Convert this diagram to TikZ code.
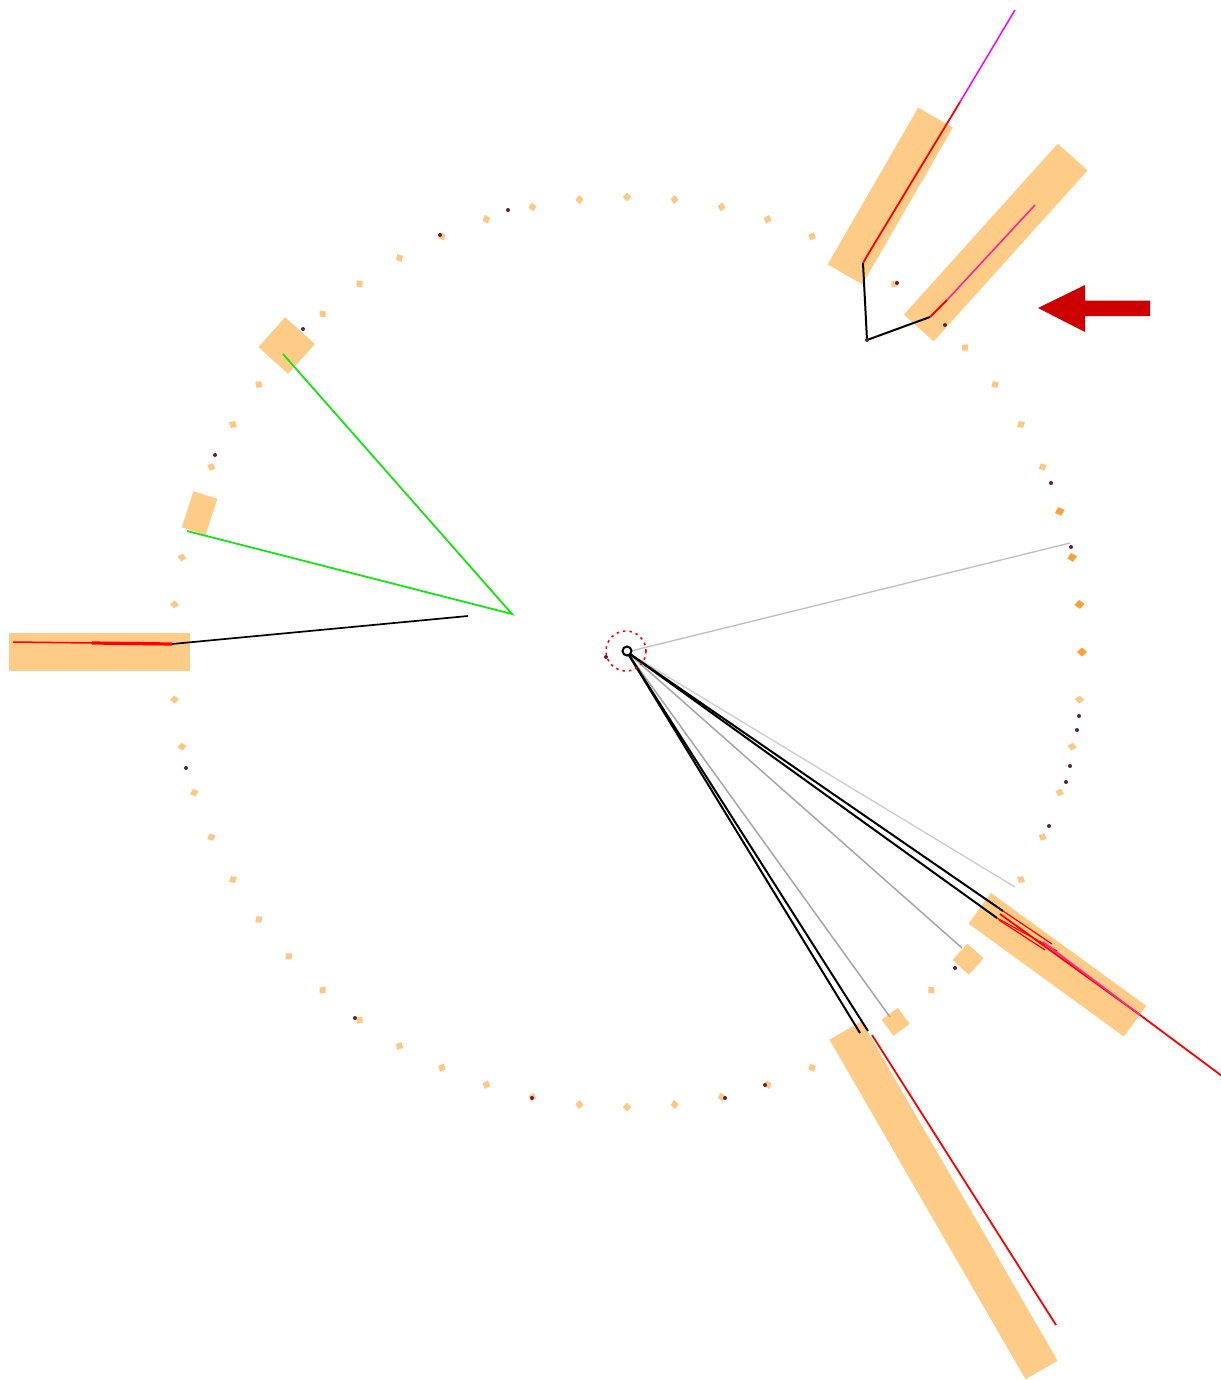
\documentclass[tikz,border=0pt]{standalone}
\usetikzlibrary{calc}
\definecolor{boxc}{RGB}{255,204,136}
\definecolor{dotlight}{RGB}{255,200,130}
\definecolor{dotstrong}{RGB}{255,160,50}
\definecolor{darkdot}{RGB}{100,30,60}
\definecolor{arrowred}{RGB}{204,0,0}
\definecolor{trackred}{RGB}{255,0,0}
\definecolor{pinkc}{RGB}{255,40,140}
\definecolor{magentac}{RGB}{255,0,255}
\definecolor{greenc}{RGB}{20,230,20}
\tikzset{
  calbox/.style={fill=boxc},
  ringdot/.style={fill=dotlight},
  strongdot/.style={fill=dotstrong},
  hitdot/.style={fill=darkdot},
  redtrack/.style={draw=trackred, line width=1.8pt},
  blacktrack/.style={draw=black, line width=2pt},
  greytrack/.style={draw=gray!70, line width=1.5pt},
  greentrack/.style={draw=greenc, line width=1.8pt}
}
\begin{document}
\begin{tikzpicture}[x=1pt,y=-1pt]
\useasboundingbox (0,0) rectangle (1220,1380);
\fill[white] (0,0) rectangle (1220,1380);
\coordinate (c) at (627,652);

% ring of small cells
\begin{scope}[shift={(c)}]
\foreach \a in {24,30,...,354}
  \fill[ringdot, rotate=\a] (455,0) +(-4.5,0) -- +(0,4) -- +(4.5,0) -- +(0,-4) -- cycle;
\foreach \a in {0,6,12,18}
  \fill[strongdot, rotate=\a] (455,0) +(-5,0) -- +(0,4.5) -- +(5,0) -- +(0,-4.5) -- cycle;

% calorimeter boxes
\fill[calbox, rotate=180] (437,-19) rectangle (618,19);
\fill[calbox, rotate=138] (438,-20) rectangle (478,20);
\fill[calbox, rotate=162] (437,-19) rectangle (462,19);
\fill[calbox, rotate=60] (436,-20) rectangle (617,20);
\fill[calbox, rotate=48] (436,-20) rectangle (666,20);
\fill[calbox, rotate=-36] (436,-19) rectangle (628,19);
\fill[calbox, rotate=-42] (448,-11) rectangle (470,11);
\fill[calbox, rotate=-54] (447,-10) rectangle (467,10);
\fill[calbox, rotate=-60] (437,-18.5) rectangle (829,18.5);
\end{scope}

% track coordinates
\coordinate (g1) at (1070,543);
\coordinate (g2) at (1015,887);
\coordinate (g3) at (962,948);
\coordinate (g4) at (890,1017);
\coordinate (b1) at (1003,911);
\coordinate (b2) at (997,918);
\coordinate (b3) at (860,1033);
\coordinate (b4) at (868,1031);

% grey tracks
\draw[draw=gray!50, line width=1.3pt] (c) -- (g1);
\draw[draw=gray!40, line width=1.3pt] (c) -- (g2);
\draw[greytrack] (c) -- (g3);
\draw[greytrack] (c) -- (g4);

% black double tracks
\draw[blacktrack] (c) -- (b1);
\draw[blacktrack] (c) -- (b2);
\draw[blacktrack] (c) -- (b3);
\draw[blacktrack] (c) -- (b4);

% bottom-right shower
\coordinate (r1) at (1140,1015);
\coordinate (r2) at (1222,1076);
\draw[redtrack] (1000,914) -- (r1) -- (r2);
\draw[draw=trackred, line width=1.2pt] (b2) -- (1057,951);
\draw[draw=trackred, line width=1.2pt] (b1) -- (1052,944);
\draw[draw=trackred, line width=1.2pt] (999,920) -- (1045,950);
\draw[draw=pinkc, line width=1.8pt] (1043,942) -- (r1);

% bottom shower
\coordinate (r3) at (872,1035);
\coordinate (r4) at (1056,1325);
\draw[redtrack] (r3) -- (r4);

% top-right kinked tracks
\coordinate (v) at (867,340);
\coordinate (k1) at (863,263);
\coordinate (k2) at (930,317);
\coordinate (t1) at (960,102);
\coordinate (t2) at (1015,10);
\coordinate (t3) at (1035,205);
\draw[blacktrack] (k1) -- (v) -- (k2);
\draw[redtrack] (k1) -- (870,251) -- (t1);
\draw[draw=magentac, line width=1.5pt] (t1) -- (t2);
\draw[draw=trackred, line width=1.8pt] (k2) -- (947,300);
\draw[draw=pinkc, line width=1.6pt] (947,300) -- (t3);

% left track
\coordinate (l0) at (468,616);
\coordinate (l1) at (172,644);
\coordinate (l2) at (92,643);
\coordinate (l3) at (13,642);
\draw[draw=black, line width=1.7pt] (l0) -- (l1);
\draw[draw=trackred, line width=3.2pt] (l1) -- (l2);
\draw[draw=trackred, line width=1.5pt] (l2) -- (l3);

% green tracks
\coordinate (gv) at (512,614);
\coordinate (ge1) at (283,354);
\coordinate (ge2) at (187,531);
\draw[greentrack] (ge1) -- (gv) -- (ge2);

% vertex
\draw[draw=trackred, line width=1.6pt, dash pattern=on 2.5pt off 4pt] (626,651) circle (20);
\draw[draw=black, line width=2pt, fill=white] (627,651) circle (4.5);

% small hits
\foreach \p in {(440,235),(508,210),(303,329),(215,455),(186,768),(355,1018),(532,1098),(725,1098),(765,1085),(955,968),(1051,483),(1071,547),(1079,716),(1077,730),(1070,766),(1066,782),(1049,826),(897,283),(945,325),(867,340),(606,657)}
  \fill[hitdot] \p circle (2);

% arrow
\fill[arrowred] (1038,308) -- (1085,285) -- (1085,300.5) -- (1150,300.5) -- (1150,316) -- (1085,316) -- (1085,332) -- cycle;
\end{tikzpicture}
\end{document}
